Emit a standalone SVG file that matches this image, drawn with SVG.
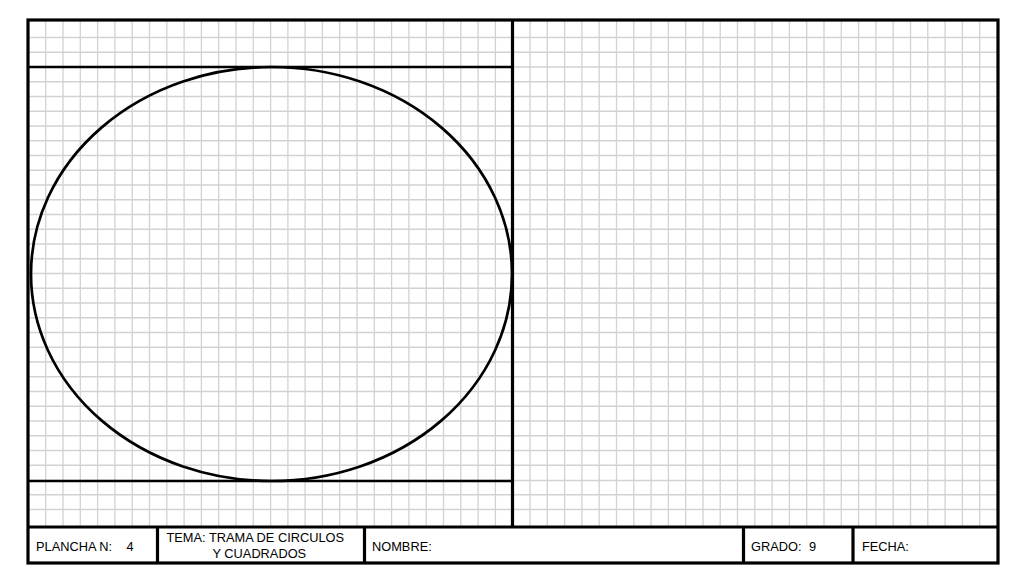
<svg xmlns="http://www.w3.org/2000/svg" width="1024" height="576" viewBox="0 0 1024 576">
<style>
.grid{stroke:#d2d2d2;stroke-width:1.3;fill:none}
.thick{stroke:#000;stroke-width:3.2;fill:none}
.mid{stroke:#000;stroke-width:2.7;fill:none}
.lbl{font-family:"Liberation Sans",Arial,sans-serif;font-size:12.8px;fill:#000}
</style>
<rect x="0" y="0" width="1024" height="576" fill="#fff"/>
<g id="grid" class="grid">
<path d="M45.7 20V527M63 20V527M80.3 20V527M97.6 20V527M114.9 20V527M132.2 20V527M149.5 20V527M166.8 20V527M184.1 20V527M201.4 20V527M218.7 20V527M236 20V527M253.3 20V527M270.6 20V527M287.9 20V527M305.1 20V527M322.4 20V527M339.7 20V527M357 20V527M374.3 20V527M391.6 20V527M408.9 20V527M426.2 20V527M443.5 20V527M460.8 20V527M478.1 20V527M495.4 20V527M530 20V527M547.3 20V527M564.6 20V527M581.9 20V527M599.2 20V527M616.5 20V527M633.8 20V527M651.1 20V527M668.4 20V527M685.7 20V527M703 20V527M720.2 20V527M737.5 20V527M754.8 20V527M772.1 20V527M789.4 20V527M806.7 20V527M824 20V527M841.3 20V527M858.6 20V527M875.9 20V527M893.2 20V527M910.5 20V527M927.8 20V527M945.1 20V527M962.4 20V527M979.7 20V527"/>
<path d="M28 37.5H998M28 52.25H998M28 67H998M28 81.75H998M28 96.5H998M28 111.25H998M28 126H998M28 140.75H998M28 155.5H998M28 170.25H998M28 185H998M28 199.75H998M28 214.5H998M28 229.25H998M28 244H998M28 258.75H998M28 273.5H998M28 288.25H998M28 303H998M28 317.75H998M28 332.5H998M28 347.25H998M28 362H998M28 376.75H998M28 391.5H998M28 406.25H998M28 421H998M28 435.75H998M28 450.5H998M28 465.25H998M28 480.5H998M28 494.75H998M28 509.5H998"/>
</g>
<g id="frame">
<rect class="thick" x="28" y="20" width="970" height="543"/>
<line class="thick" x1="512.5" y1="20" x2="512.5" y2="527"/>
<line class="mid" x1="28" y1="67" x2="512.5" y2="67"/>
<line class="mid" x1="28" y1="481" x2="512.5" y2="481"/>
</g>
<g id="ellipse">
<ellipse class="mid" cx="271.5" cy="274" rx="240.5" ry="207"/>
</g>
<g id="title-block">
<line class="thick" x1="28" y1="527" x2="998" y2="527"/>
<line class="thick" x1="157.5" y1="527" x2="157.5" y2="563"/>
<line class="thick" x1="364.5" y1="527" x2="364.5" y2="563"/>
<line class="thick" x1="743.5" y1="527" x2="743.5" y2="563"/>
<line class="thick" x1="853" y1="527" x2="853" y2="563"/>
</g>
<g id="cell-plancha">
<text class="lbl" x="36" y="551">PLANCHA N:</text>
<text class="lbl" x="126.5" y="551">4</text>
</g>
<g id="cell-tema">
<text class="lbl" x="166.5" y="542">TEMA: TRAMA DE CIRCULOS</text>
<text class="lbl" x="212.5" y="557.5">Y CUADRADOS</text>
</g>
<g id="cell-nombre">
<text class="lbl" x="372" y="551">NOMBRE:</text>
</g>
<g id="cell-grado">
<text class="lbl" x="751" y="551">GRADO:</text>
<text class="lbl" x="809" y="551">9</text>
</g>
<g id="cell-fecha">
<text class="lbl" x="862" y="551">FECHA:</text>
</g>
</svg>
